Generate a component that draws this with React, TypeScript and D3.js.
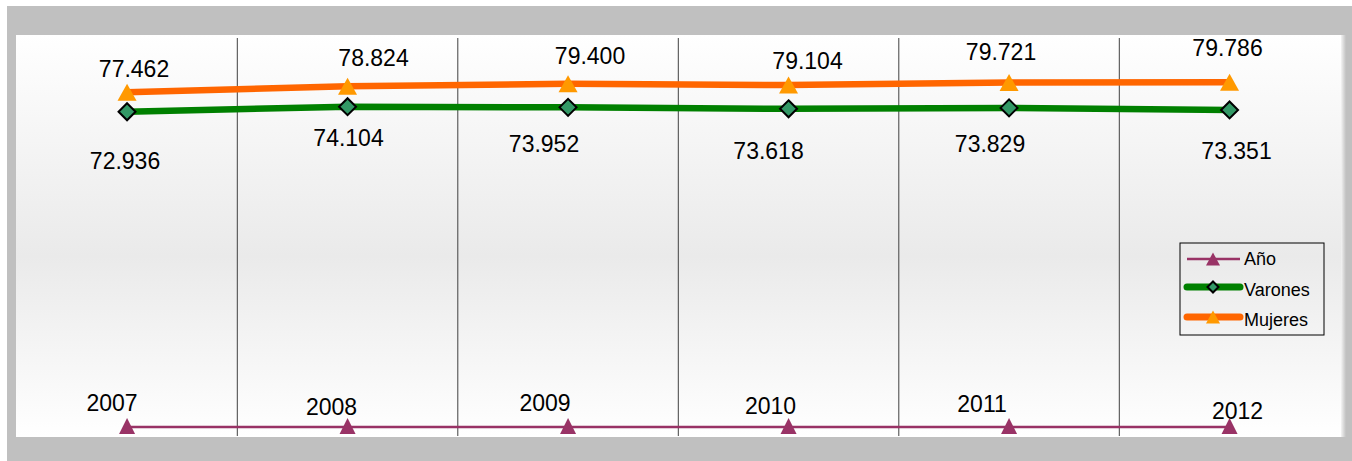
import React from "react";
import * as d3 from "d3";

// ---- data ----
const years = ["2007", "2008", "2009", "2010", "2011", "2012"];
const anio = [0, 0, 0, 0, 0, 0];
const varones = [72.936, 74.104, 73.952, 73.618, 73.829, 73.351];
const mujeres = [77.462, 78.824, 79.4, 79.104, 79.721, 79.786];
const yDomain = [0, 90];

// ---- label placement (offsets from marker, px) ----
const mujeresLabelDx = [7, 26, 22, 19, -8, -2];
const mujeresLabelDy = [-15, -20, -20, -16, -22, -26];
const varonesLabelDx = [-2, 1, -24, -20, -19, 7];
const varonesLabelDy = [57, 39, 45, 50, 44, 49];
const anioLabelDx = [-15, -16, -23, -18, -27, 8];
const anioLabelDy = [-16, -12, -16, -13, -15, -8];

const W = 1352;
const H = 461;
const FONT = "'Liberation Sans', Arial, sans-serif";

const fmt = (v: number) => v.toFixed(3);

function Triangle({ cx, cy, w, h, fill }: { cx: number; cy: number; w: number; h: number; fill: string }) {
  const p = [
    [cx, cy - h / 2],
    [cx + w / 2, cy + h / 2],
    [cx - w / 2, cy + h / 2],
  ];
  return <path d={"M" + p.map((q) => q.join(",")).join("L") + "Z"} fill={fill} />;
}

function Diamond({ cx, cy, r, fill }: { cx: number; cy: number; r: number; fill: string }) {
  const d = `M${cx},${cy - r}L${cx + r},${cy}L${cx},${cy + r}L${cx - r},${cy}Z`;
  return <path d={d} fill={fill} stroke="#000" strokeWidth={2} strokeLinejoin="miter" />;
}

export default function App() {
  const plotL = 16.8;
  const plotR = 1339.8;
  const plotT = 38;
  const plotB = 436;

  const x = d3.scaleBand<string>().domain(years).range([plotL, plotR]).padding(0);
  const cx = (yr: string) => (x(yr) as number) + x.bandwidth() / 2;
  const y = d3.scaleLinear().domain(yDomain).range([427, 38]);

  const line = d3
    .line<number>()
    .x((_, i) => cx(years[i]))
    .y((v) => y(v));

  const orange = "#FF6600";
  const orangeMarker = "#FF9900";
  const green = "#008000";
  const greenMarker = "#339966";
  const purple = "#993366";

  const legX = 1180;
  const legY = 243;
  const legW = 144;
  const legH = 92;

  return (
    <svg
      width={W}
      height={H}
      style={{ position: "absolute", left: 0, top: 0, display: "block" }}
      fontFamily={FONT}
    >
      <defs>
        <linearGradient id="bg" x1="0" y1="0" x2="0" y2="1">
          <stop offset="0%" stopColor="#ffffff" />
          <stop offset="55%" stopColor="#eaeaea" />
          <stop offset="100%" stopColor="#ffffff" />
        </linearGradient>
        <linearGradient id="frameR" x1="0" y1="0" x2="1" y2="0">
          <stop offset="0%" stopColor="#f4f4f4" />
          <stop offset="100%" stopColor="#c0c0c0" />
        </linearGradient>
      </defs>
      <rect x={0} y={0} width={W} height={H} fill="#ffffff" />
      <rect x={7} y={6} width={W - 7} height={H - 6} fill="#c0c0c0" />
      <rect x={1341} y={35} width={5} height={402} fill="url(#frameR)" />
      <rect x={16} y={35} width={1325} height={402} fill="url(#bg)" />

      {/* vertical gridlines */}
      {years.slice(1).map((yr) => (
        <line
          key={"g" + yr}
          x1={x(yr) as number}
          x2={x(yr) as number}
          y1={plotT}
          y2={plotB}
          stroke="#404040"
          strokeWidth={1}
        />
      ))}

      {/* Año series */}
      <path d={line(anio) || ""} fill="none" stroke={purple} strokeWidth={2.5} />
      {anio.map((v, i) => (
        <Triangle key={"at" + i} cx={cx(years[i])} cy={y(v) - 1} w={16} h={16} fill={purple} />
      ))}

      {/* Mujeres series */}
      <path d={line(mujeres) || ""} fill="none" stroke={orange} strokeWidth={6.5} />
      {mujeres.map((v, i) => (
        <Triangle key={"mt" + i} cx={cx(years[i])} cy={y(v)} w={19} h={17} fill={orangeMarker} />
      ))}

      {/* Varones series */}
      <path d={line(varones) || ""} fill="none" stroke={green} strokeWidth={6.5} />
      {varones.map((v, i) => (
        <Diamond key={"vd" + i} cx={cx(years[i])} cy={y(v)} r={8.5} fill={greenMarker} />
      ))}

      {/* labels */}
      <g fontSize={23} fill="#000" textAnchor="middle">
        {mujeres.map((v, i) => (
          <text key={"ml" + i} x={cx(years[i]) + mujeresLabelDx[i]} y={y(v) + mujeresLabelDy[i]}>
            {fmt(v)}
          </text>
        ))}
        {varones.map((v, i) => (
          <text key={"vl" + i} x={cx(years[i]) + varonesLabelDx[i]} y={y(v) + varonesLabelDy[i]}>
            {fmt(v)}
          </text>
        ))}
        {anio.map((v, i) => (
          <text key={"al" + i} x={cx(years[i]) + anioLabelDx[i]} y={y(v) + anioLabelDy[i]}>
            {years[i]}
          </text>
        ))}
      </g>

      {/* legend */}
      <rect x={legX} y={legY} width={legW} height={legH} fill="none" stroke="#000" strokeWidth={1} />
      <g fontSize={18} fill="#000">
        <line x1={1187} x2={1240} y1={259} y2={259} stroke={purple} strokeWidth={2.5} />
        <Triangle cx={1213} cy={259} w={14} h={13} fill={purple} />
        <text x={1244} y={265}>Año</text>

        <line x1={1187} x2={1240} y1={287} y2={287} stroke={green} strokeWidth={7} strokeLinecap="round" />
        <Diamond cx={1213} cy={287} r={5.5} fill={greenMarker} />
        <text x={1244} y={296}>Varones</text>

        <line x1={1187} x2={1240} y1={317} y2={317} stroke={orange} strokeWidth={7} strokeLinecap="round" />
        <Triangle cx={1213} cy={317} w={14} h={13} fill={orangeMarker} />
        <text x={1244} y={326}>Mujeres</text>
      </g>
    </svg>
  );
}
